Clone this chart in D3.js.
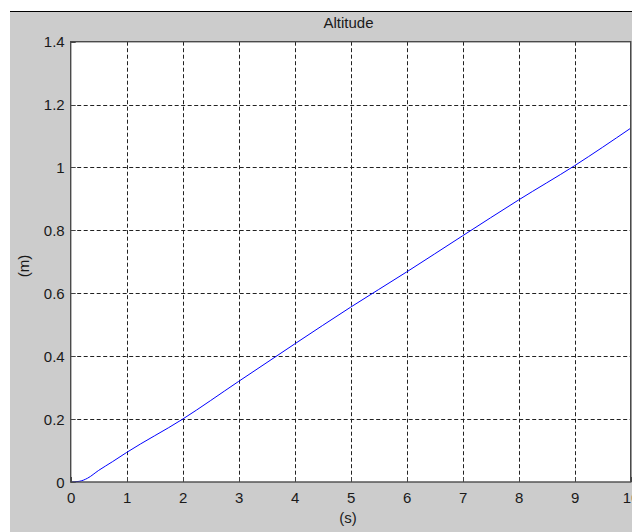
<!DOCTYPE html>
<html><head><meta charset="utf-8">
<script src="https://cdn.jsdelivr.net/npm/d3@7"></script>
<style>html,body{margin:0;padding:0;background:#fff;}svg{display:block;}</style>
</head><body>
<script>
const timeS = [0, 0.15, 0.3, 0.5, 0.75, 1, 2, 3, 4, 5, 6, 7, 8, 9, 10];
const altitudeM = [0, 0.002, 0.012, 0.037, 0.065, 0.094, 0.200, 0.320, 0.439, 0.556, 0.668, 0.783, 0.897, 1.006, 1.125];
const xTicks = [0,1,2,3,4,5,6,7,8,9,10];
const yTicks = [0,0.2,0.4,0.6,0.8,1,1.2,1.4];
const titleText = "Altitude";
const xLabel = "(s)";
const yLabel = "(m)";

(function(){
const W = 632, H = 532;
const FONT = "'Liberation Sans', Arial, sans-serif";
const FS = 15;
const svg = d3.select("body").append("svg").attr("width", W).attr("height", H);
svg.append("rect").attr("x",0).attr("y",0).attr("width",W).attr("height",H).attr("fill","#fff");
svg.append("rect").attr("x",10).attr("y",11).attr("width",W-10).attr("height",H-11).attr("fill","#cccccc");
svg.append("line").attr("x1",10).attr("x2",W).attr("y1",11.5).attr("y2",11.5).attr("stroke","#000").attr("stroke-width",1);

const pL = 70.7, pR = 630.7, pT = 41.7, pB = 482;
const x = d3.scaleLinear().domain([0,10]).range([pL,pR]);
const y = d3.scaleLinear().domain([0,1.4]).range([pB,pT]);

svg.append("rect").attr("x",pL).attr("y",pT).attr("width",pR-pL).attr("height",pB-pT).attr("fill","#fff");

const g = svg.append("g");
g.selectAll(".vg").data(xTicks.slice(1,-1)).enter().append("line")
  .attr("x1",d=>Math.round(x(d))+0.5).attr("x2",d=>Math.round(x(d))+0.5)
  .attr("y1",pT).attr("y2",pB)
  .attr("stroke","#222").attr("stroke-width",1).attr("stroke-dasharray","4,2.5");
g.selectAll(".hg").data(yTicks.slice(1,-1)).enter().append("line")
  .attr("y1",d=>Math.round(y(d))+0.5).attr("y2",d=>Math.round(y(d))+0.5)
  .attr("x1",pL).attr("x2",pR)
  .attr("stroke","#222").attr("stroke-width",1).attr("stroke-dasharray","4,2.5");

const line = d3.line().x((d,i)=>x(timeS[i])).y(d=>y(d)).curve(d3.curveMonotoneX);
svg.append("clipPath").attr("id","clip").append("rect").attr("x",pL).attr("y",pT).attr("width",pR-pL).attr("height",pB-pT+1);
svg.append("path").datum(altitudeM).attr("d",line).attr("fill","none")
  .attr("stroke","#0000ff").attr("stroke-width",1).attr("clip-path","url(#clip)");

const xAxis = d3.axisBottom(x).tickValues(xTicks).tickFormat(d3.format("d")).tickSize(0).tickPadding(6);
const yAxis = d3.axisLeft(y).tickValues(yTicks).tickFormat(d=>d===0?"0":(d===1?"1":d3.format(".1f")(d))).tickSize(0).tickPadding(6);
const gx = svg.append("g").attr("transform",`translate(0,${pB})`).call(xAxis);
const gy = svg.append("g").attr("transform",`translate(${pL},0)`).call(yAxis);
[gx,gy].forEach(a=>{
  a.select(".domain").remove();
  a.selectAll("text").attr("font-family",FONT).attr("font-size",FS).attr("fill","#1a1a1a");
});
gx.selectAll("text").attr("y",20.5).attr("dy",0);
gy.selectAll("text").attr("dy","0.35em").attr("x",-6);

svg.selectAll(".xt").data(xTicks).enter().append("line")
  .attr("x1",d=>Math.round(x(d))+0.5).attr("x2",d=>Math.round(x(d))+0.5).attr("y1",pB).attr("y2",pB-5)
  .attr("stroke","#444");
svg.selectAll(".yt").data(yTicks).enter().append("line")
  .attr("y1",d=>Math.round(y(d))+0.5).attr("y2",d=>Math.round(y(d))+0.5).attr("x1",pL).attr("x2",pL+5)
  .attr("stroke","#444");

svg.append("rect").attr("x",pL).attr("y",pT).attr("width",pR-pL).attr("height",pB-pT)
  .attr("fill","none").attr("stroke","#4a4a4a").attr("stroke-width",1.4);

svg.append("text").attr("x",348.5).attr("y",27.5).attr("text-anchor","middle")
  .attr("font-family",FONT).attr("font-size",FS).attr("fill","#1a1a1a").text(titleText);
svg.append("text").attr("x",348).attr("y",523).attr("text-anchor","middle")
  .attr("font-family",FONT).attr("font-size",FS).attr("fill","#1a1a1a").text(xLabel);
svg.append("text").attr("transform",`translate(24,266) rotate(-90)`).attr("text-anchor","middle").attr("dy","0.35em")
  .attr("font-family",FONT).attr("font-size",FS).attr("fill","#1a1a1a").text(yLabel);
})();
</script>
</body></html>
